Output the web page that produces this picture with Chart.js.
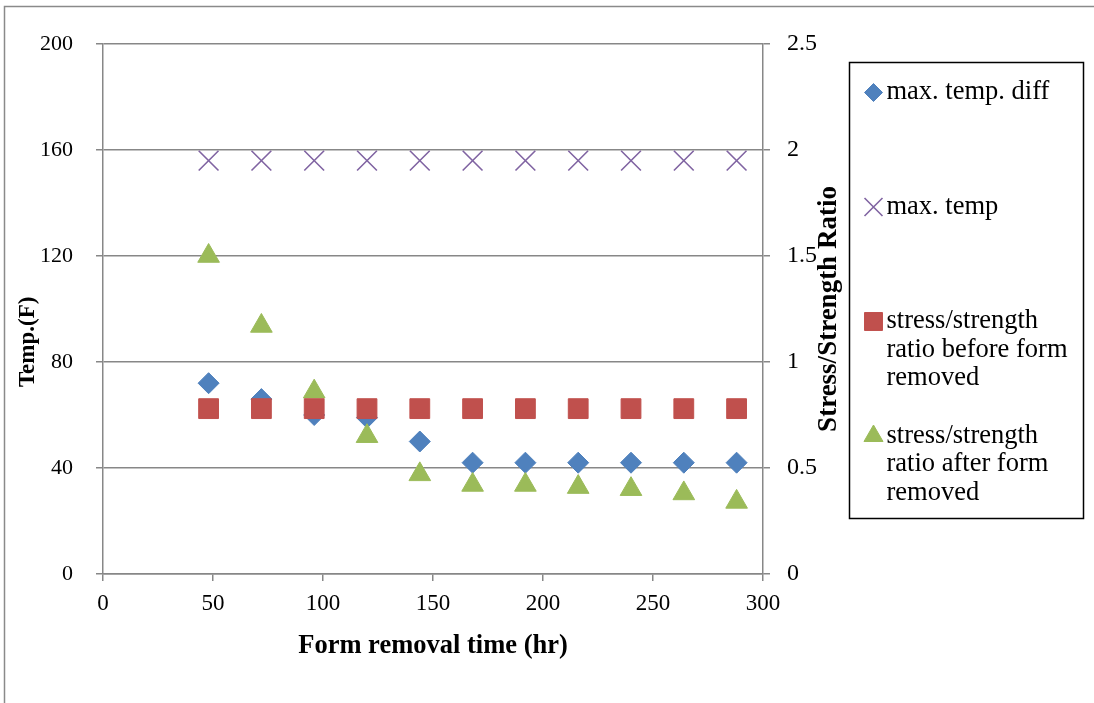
<!DOCTYPE html>
<html>
<head>
<meta charset="utf-8">
<script src="https://cdn.jsdelivr.net/npm/chart.js@4/dist/chart.umd.min.js"></script>
<style>
html,body{margin:0;padding:0;background:#fff;}
#wrap{width:1094px;height:703px;position:relative;}
</style>
</head>
<body>
<div id="wrap"><canvas id="c"></canvas></div>
<script>
// ---- data ----
const formRemovalTime = [48, 72, 96, 120, 144, 168, 192, 216, 240, 264, 288];
const maxTempDiff = [72, 66, 60, 59, 50, 42, 42, 42, 42, 42, 42];
const maxTemp = [156, 156, 156, 156, 156, 156, 156, 156, 156, 156, 156];
const ratioBefore = [0.78, 0.78, 0.78, 0.78, 0.78, 0.78, 0.78, 0.78, 0.78, 0.78, 0.78];
const ratioAfter = [1.50, 1.17, 0.86, 0.65, 0.47, 0.42, 0.42, 0.41, 0.40, 0.38, 0.34];

const xTickValues = [0, 50, 100, 150, 200, 250, 300];
const tempTickValues = [0, 40, 80, 120, 160, 200];
const ratioTickValues = [0, 0.5, 1, 1.5, 2, 2.5];
const ratioTickLabels = ['0', '0.5', '1', '1.5', '2', '2.5'];

const seriesNames = [
  'max. temp. diff',
  'max. temp',
  'stress/strength ratio before form removed',
  'stress/strength ratio after form removed'
];
const legendLines = [
  ['max. temp. diff'],
  ['max. temp'],
  ['stress/strength', 'ratio before form', 'removed'],
  ['stress/strength', 'ratio after form', 'removed']
];
const xTitle = 'Form removal time (hr)';
const leftTitle = 'Temp.(F)';
const rightTitle = 'Stress/Strength Ratio';

// ---- styles ----
const FONT = '"Liberation Serif", "Times New Roman", serif';
const GRID = '#878787';
const colors = ['#4F81BD', '#8064A2', '#C0504D', '#9BBB59'];
const styles = ['rectRot', 'crossRot', 'rect', 'triangle'];
const radii = [10.5, 14, 14, 12.5];
const borderWidths = [1, 1.6, 1, 1];
const legendRadii = [9, 12.7, 12.7, 11];
const drawOrder = [3, 2, 0, 1];
const axisIds = ['y', 'y', 'y1', 'y1'];
const seriesValues = [maxTempDiff, maxTemp, ratioBefore, ratioAfter];

const datasets = seriesValues.map((vals, i) => ({
  label: seriesNames[i],
  data: formRemovalTime.map((x, k) => ({x: x, y: vals[k]})),
  yAxisID: axisIds[i],
  showLine: false,
  pointStyle: styles[i],
  pointRadius: radii[i],
  pointHoverRadius: radii[i],
  pointBorderWidth: borderWidths[i],
  pointHoverBorderWidth: borderWidths[i],
  backgroundColor: colors[i],
  borderColor: colors[i],
  order: drawOrder[i]
}));

const frame = {
  id: 'frame',
  beforeDraw(chart) {
    const ctx = chart.ctx;
    ctx.save();
    ctx.fillStyle = '#fff';
    ctx.fillRect(0, 0, chart.width, chart.height);
    ctx.strokeStyle = '#8a8a8a';
    ctx.lineWidth = 1.5;
    ctx.strokeRect(4.5, 6.5, chart.width + 50, chart.height + 50);
    ctx.restore();
  }
};

const axisTitles = {
  id: 'axisTitles',
  afterDraw(chart) {
    const {ctx, chartArea} = chart;
    ctx.save();
    ctx.fillStyle = '#000';
    ctx.textAlign = 'center';
    ctx.textBaseline = 'middle';
    ctx.font = 'bold 23px ' + FONT;
    ctx.translate(28, chartArea.top + chartArea.height * 0.562);
    ctx.rotate(-Math.PI / 2);
    ctx.fillText(leftTitle, 0, 0);
    ctx.restore();

    ctx.save();
    ctx.fillStyle = '#000';
    ctx.textAlign = 'center';
    ctx.textBaseline = 'middle';
    ctx.font = 'bold 27px ' + FONT;
    ctx.translate(chartArea.right + 66, chartArea.top + chartArea.height / 2);
    ctx.rotate(-Math.PI / 2);
    ctx.fillText(rightTitle, 0, 0);
    ctx.restore();
  }
};

const boxLegend = {
  id: 'boxLegend',
  afterDraw(chart) {
    const {ctx, chartArea} = chart;
    const bx = chartArea.right + 86.5, by = chartArea.top + 18.5, bw = 234, bh = 456;
    ctx.save();
    ctx.strokeStyle = '#000';
    ctx.lineWidth = 1.5;
    ctx.strokeRect(bx, by, bw, bh);
    chart.data.datasets.forEach((ds, i) => {
      const y0 = by + 30 + i * 114.5;
      ctx.save();
      ctx.fillStyle = ds.backgroundColor;
      ctx.strokeStyle = ds.borderColor;
      ctx.lineWidth = ds.pointBorderWidth;
      Chart.helpers.drawPoint(ctx, {
        pointStyle: ds.pointStyle,
        radius: legendRadii[i],
        borderWidth: ds.pointBorderWidth,
        rotation: 0
      }, bx + 24, y0);
      ctx.restore();
      ctx.fillStyle = '#000';
      ctx.font = '26.5px ' + FONT;
      ctx.textAlign = 'left';
      ctx.textBaseline = 'middle';
      legendLines[i].forEach((line, k) => ctx.fillText(line, bx + 37, y0 + k * 28.5));
    });
    ctx.restore();
  }
};

new Chart(document.getElementById('c'), {
  type: 'scatter',
  data: {datasets: datasets},
  plugins: [frame, axisTitles, boxLegend],
  options: {
    responsive: true,
    maintainAspectRatio: false,
    animation: false,
    events: [],
    layout: {padding: {top: 44, left: 0, right: 0, bottom: 0}},
    plugins: {legend: {display: false}, tooltip: {enabled: false}},
    scales: {
      x: {
        type: 'linear',
        position: 'bottom',
        min: 0, max: 300,
        afterBuildTicks: s => { s.ticks = xTickValues.map(v => ({value: v})); },
        afterFit: s => { s.height = 129; },
        ticks: {font: {family: FONT, size: 23}, color: '#000', padding: 9, maxRotation: 0},
        grid: {drawOnChartArea: false, drawTicks: true, tickLength: 7, color: GRID, lineWidth: 1.5},
        border: {display: true, color: GRID, width: 1.5},
        title: {display: true, text: xTitle, color: '#000', font: {family: FONT, size: 26.5, weight: 'bold'}, padding: {top: 0, bottom: 41}}
      },
      y: {
        type: 'linear',
        position: 'left',
        min: 0, max: 200,
        afterBuildTicks: s => { s.ticks = tempTickValues.map(v => ({value: v})); },
        afterFit: s => { s.width = 103; },
        ticks: {font: {family: FONT, size: 22}, color: '#000', padding: 23},
        grid: {drawOnChartArea: true, drawTicks: true, tickLength: 7, color: GRID, lineWidth: 1.5},
        border: {display: true, color: GRID, width: 1.5}
      },
      y1: {
        type: 'linear',
        position: 'right',
        min: 0, max: 2.5,
        afterBuildTicks: s => { s.ticks = ratioTickValues.map(v => ({value: v})); },
        afterFit: s => { s.width = 331; },
        ticks: {
          font: {family: FONT, size: 24}, color: '#000', padding: 17,
          callback: (v) => ratioTickLabels[ratioTickValues.indexOf(v)]
        },
        grid: {drawOnChartArea: false, drawTicks: true, tickLength: 7, color: GRID, lineWidth: 1.5},
        border: {display: true, color: GRID, width: 1.5}
      }
    }
  }
});
</script>
</body>
</html>
